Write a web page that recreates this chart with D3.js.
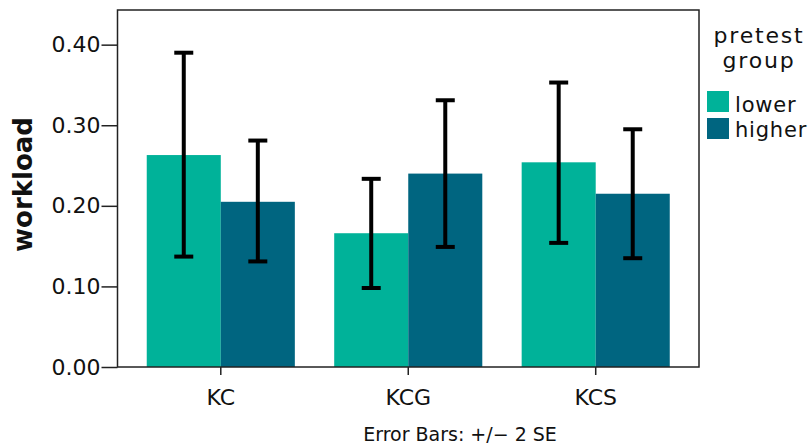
<!DOCTYPE html>
<html>
<head>
<meta charset="utf-8">
<script src="https://cdn.jsdelivr.net/npm/d3@7"></script>
<style>
  html, body { margin: 0; padding: 0; background: #fff; }
  svg { display: block; }
  text { font-family: "DejaVu Sans", sans-serif; fill: #111; }
</style>
</head>
<body>
<svg id="chart" width="812" height="446"></svg>
<script>
const categories = ["KC", "KCG", "KCS"];
const groups = ["lower", "higher"];
const lowerMean = [0.263, 0.166, 0.254];
const higherMean = [0.205, 0.240, 0.215];
const lowerLo = [0.137, 0.098, 0.154];
const lowerHi = [0.390, 0.2335, 0.353];
const higherLo = [0.131, 0.149, 0.135];
const higherHi = [0.281, 0.331, 0.295];
const yTicks = [0.0, 0.1, 0.2, 0.3, 0.4];
const colors = ["#00b299", "#006580"];

const rows = [];
categories.forEach((c, i) => {
  rows.push({cat: c, group: "lower", v: lowerMean[i], lo: lowerLo[i], hi: lowerHi[i]});
  rows.push({cat: c, group: "higher", v: higherMean[i], lo: higherLo[i], hi: higherHi[i]});
});

const svg = d3.select("#chart");
const L = 117.5, R = 699, T = 10, B = 367;

const x = d3.scaleBand().domain(categories).range([L, R]).paddingInner(0.21).paddingOuter(0.156);
const xg = d3.scaleBand().domain(groups).range([0, x.bandwidth()]);
const y = d3.scaleLinear().domain([0, 0.443]).range([B, T]);
const color = d3.scaleOrdinal().domain(groups).range(colors);

// bars
svg.append("g").selectAll("rect").data(rows).join("rect")
  .attr("x", d => x(d.cat) + xg(d.group))
  .attr("width", xg.bandwidth())
  .attr("y", d => y(d.v))
  .attr("height", d => y(0) - y(d.v))
  .attr("fill", d => color(d.group));

// error bars
const eb = svg.append("g").attr("stroke", "#000").attr("stroke-width", 4);
rows.forEach(d => {
  const cx = x(d.cat) + xg(d.group) + xg.bandwidth() / 2;
  eb.append("line").attr("x1", cx).attr("x2", cx).attr("y1", y(d.hi)).attr("y2", y(d.lo));
  eb.append("line").attr("x1", cx - 9.5).attr("x2", cx + 9.5).attr("y1", y(d.hi)).attr("y2", y(d.hi));
  eb.append("line").attr("x1", cx - 9.5).attr("x2", cx + 9.5).attr("y1", y(d.lo)).attr("y2", y(d.lo));
});

// frame
svg.append("rect").attr("x", L).attr("y", T).attr("width", R - L).attr("height", B - T)
  .attr("fill", "none").attr("stroke", "#222").attr("stroke-width", 1.5);

// y axis
const yAxis = svg.append("g").attr("transform", `translate(${L},0)`)
  .call(d3.axisLeft(y).tickValues(yTicks).tickFormat(d3.format(".2f")).tickSize(16).tickPadding(1));
yAxis.select(".domain").remove();
yAxis.selectAll(".tick line").attr("stroke", "#222").attr("stroke-width", 1.5);
yAxis.selectAll(".tick text").style("font-family", "DejaVu Sans").style("font-size", "22px").attr("fill", "#111");

// x axis
const xAxis = svg.append("g").attr("transform", `translate(0,${B})`)
  .call(d3.axisBottom(x).tickSize(8).tickPadding(14));
xAxis.select(".domain").remove();
xAxis.selectAll(".tick line").attr("stroke", "#222").attr("stroke-width", 1.5);
xAxis.selectAll(".tick text").style("font-family", "DejaVu Sans").style("font-size", "22px").attr("fill", "#111");

// y title
svg.append("text")
  .attr("transform", `translate(31.5,${(T + B) / 2 - 4}) rotate(-90)`)
  .attr("text-anchor", "middle")
  .style("font-size", "26px").style("font-weight", "bold")
  .text("workload");

// footnote
svg.append("text").attr("x", 460).attr("y", 441).attr("text-anchor", "middle")
  .style("font-size", "19px").text("Error Bars: +/\u2212 2 SE");

// legend
const lg = svg.append("g");
lg.append("text").attr("x", 759).attr("y", 43).attr("text-anchor", "middle")
  .style("font-size", "22px").style("letter-spacing", "1.8px").text("pretest");
lg.append("text").attr("x", 759).attr("y", 67.5).attr("text-anchor", "middle")
  .style("font-size", "22px").style("letter-spacing", "1.8px").text("group");
groups.forEach((g, i) => {
  lg.append("rect").attr("x", 707).attr("y", 91 + i * 27).attr("width", 22).attr("height", 21)
    .attr("fill", color(g));
  lg.append("text").attr("x", 735).attr("y", 111.5 + i * 25)
    .style("font-size", "21px").style("letter-spacing", "0.8px").text(g);
});
</script>
</body>
</html>
